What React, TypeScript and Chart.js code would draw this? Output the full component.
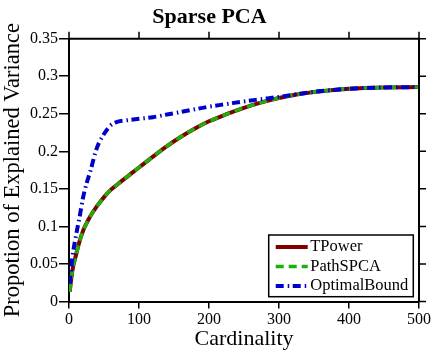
import React, { useEffect, useRef } from "react";
import { Chart, registerables } from "chart.js";

Chart.register(...registerables);

const cardinality = [1, 5, 10, 15, 20, 25, 30, 40, 50, 60, 70, 80, 100, 120, 140, 160, 180, 200, 225, 250, 275, 300, 325, 350, 400, 450, 500];
const tpower = [0.013, 0.042, 0.062, 0.08, 0.094, 0.104, 0.113, 0.127, 0.139, 0.149, 0.1565, 0.164, 0.1785, 0.193, 0.207, 0.2195, 0.2305, 0.24, 0.2495, 0.258, 0.2652, 0.271, 0.2756, 0.2791, 0.2833, 0.2851, 0.2856];
const pathspca = [0.013, 0.042, 0.062, 0.08, 0.094, 0.104, 0.113, 0.127, 0.139, 0.149, 0.1565, 0.164, 0.1785, 0.193, 0.207, 0.2195, 0.2305, 0.24, 0.2495, 0.258, 0.2652, 0.271, 0.2756, 0.2791, 0.2833, 0.2851, 0.2856];
const optimalBound = [0.024, 0.06, 0.088, 0.112, 0.138, 0.157, 0.172, 0.205, 0.223, 0.235, 0.2395, 0.241, 0.2433, 0.2455, 0.249, 0.2525, 0.256, 0.2595, 0.263, 0.2665, 0.2695, 0.2725, 0.276, 0.2792, 0.2833, 0.2851, 0.2856];

const xTickValues = [0, 100, 200, 300, 400, 500];
const xTickLabels = ["0", "100", "200", "300", "400", "500"];
const yTickValues = [0, 0.05, 0.1, 0.15, 0.2, 0.25, 0.3, 0.35];
const yTickLabels = ["0", "0.05", "0.1", "0.15", "0.2", "0.25", "0.3", "0.35"];

const seriesNames = ["TPower", "PathSPCA", "OptimalBound"];

const FONT = "'Liberation Serif', 'Times New Roman', serif";

const RED = "rgb(128,0,0)";
const GREEN = "rgb(30,175,10)";
const BLUE = "rgb(0,0,205)";

const toPoints = (ys: number[]) => cardinality.map((x, i) => ({ x, y: ys[i] }));

const framePlugin = {
  id: "frameAndLegend",
  afterDatasetsDraw(chart: any) {
    const { ctx, chartArea: a, scales } = chart;
    ctx.save();
    ctx.strokeStyle = "#000";
    ctx.lineWidth = 2;
    ctx.setLineDash([]);
    ctx.beginPath();
    ctx.moveTo(a.left, a.top);
    ctx.lineTo(a.right, a.top);
    ctx.lineTo(a.right, a.bottom);
    ctx.stroke();
    ctx.lineWidth = 1.5;
    ctx.beginPath();
    for (const v of xTickValues) {
      const px = scales.x.getPixelForValue(v);
      ctx.moveTo(px, a.top);
      ctx.lineTo(px, a.top - 7);
    }
    for (const v of yTickValues) {
      const py = scales.y.getPixelForValue(v);
      ctx.moveTo(a.right, py);
      ctx.lineTo(a.right + 7, py);
    }
    ctx.stroke();

    // legend
    ctx.font = `16.5px ${FONT}`;
    const ds = chart.data.datasets;
    let maxW = 0;
    for (const d of ds) maxW = Math.max(maxW, ctx.measureText(d.label).width);
    const lineLen = 32;
    const w = 7 + lineLen + 2.5 + maxW + 5;
    const h = 61.7;
    const right = a.right - 5.7;
    const bottom = a.bottom - 4.8;
    const left = right - w;
    const top = bottom - h;
    ctx.fillStyle = "#fff";
    ctx.fillRect(left, top, w, h);
    ctx.lineWidth = 1.5;
    ctx.strokeStyle = "#000";
    ctx.strokeRect(left, top, w, h);
    ds.forEach((d: any, i: number) => {
      const y = top + 12 + i * 19.5;
      ctx.save();
      ctx.strokeStyle = d.borderColor;
      ctx.lineWidth = d.borderWidth;
      ctx.setLineDash(d.borderDash || []);
      ctx.beginPath();
      ctx.moveTo(left + 7, y);
      ctx.lineTo(left + 7 + lineLen, y);
      ctx.stroke();
      ctx.restore();
      ctx.fillStyle = "#000";
      ctx.textBaseline = "middle";
      ctx.textAlign = "left";
      ctx.fillText(d.label, left + 7 + lineLen + 2.5, y);
    });
    ctx.restore();
  },
};

export default function App() {
  const ref = useRef<HTMLCanvasElement>(null);
  useEffect(() => {
    if (!ref.current) return;
    Chart.defaults.font.family = FONT;
    Chart.defaults.color = "#000";
    const chart = new Chart(ref.current, {
      type: "line",
      data: {
        datasets: [
          {
            label: seriesNames[0],
            data: toPoints(tpower),
            borderColor: RED,
            backgroundColor: RED,
            borderWidth: 4,
            pointRadius: 0,
            order: 3,
            cubicInterpolationMode: "monotone",
          },
          {
            label: seriesNames[1],
            data: toPoints(pathspca),
            borderColor: GREEN,
            backgroundColor: GREEN,
            borderWidth: 3.5,
            borderDash: [8, 5],
            pointRadius: 0,
            order: 2,
            cubicInterpolationMode: "monotone",
          },
          {
            label: seriesNames[2],
            data: toPoints(optimalBound),
            borderColor: BLUE,
            backgroundColor: BLUE,
            borderWidth: 4,
            borderDash: [8, 4, 1.5, 3.5],
            pointRadius: 0,
            order: 1,
            cubicInterpolationMode: "monotone",
          },
        ],
      } as any,
      options: {
        responsive: false,
        animation: false,
        layout: { padding: { left: 0, right: 17, top: 0, bottom: 0 } },
        plugins: {
          legend: { display: false },
          tooltip: { enabled: false },
          title: {
            display: true,
            text: "Sparse PCA",
            color: "#000",
            font: { family: FONT, size: 22, weight: "bold", lineHeight: 1.2 },
            padding: { top: 4, bottom: 8.3 },
          },
        },
        scales: {
          x: {
            type: "linear",
            min: 0,
            max: 500,
            afterFit: (s: any) => {
              s.height = 50.5;
            },
            afterBuildTicks: (s: any) => {
              s.ticks = xTickValues.map((v) => ({ value: v }));
            },
            ticks: {
              font: { family: FONT, size: 16 },
              color: "#000",
              padding: 2,
              maxRotation: 0,
              callback: (_v: any, i: number) => xTickLabels[i],
            },
            grid: { display: true, drawOnChartArea: false, drawTicks: true, tickLength: 7, color: "#000", lineWidth: 1.5 },
            border: { display: true, color: "#000", width: 2 },
            title: {
              display: true,
              text: "Cardinality",
              color: "#000",
              font: { family: FONT, size: 22, lineHeight: 1 },
              padding: { top: 0, bottom: 1.4 },
            },
          },
          y: {
            type: "linear",
            min: 0,
            max: 0.35,
            afterFit: (s: any) => {
              s.width = 69;
            },
            afterBuildTicks: (s: any) => {
              s.ticks = yTickValues.map((v) => ({ value: v }));
            },
            ticks: {
              font: { family: FONT, size: 16 },
              color: "#000",
              padding: 1,
              callback: (_v: any, i: number) => yTickLabels[i],
            },
            grid: { display: true, drawOnChartArea: false, drawTicks: true, tickLength: 10, color: "#000", lineWidth: 1.5 },
            border: { display: true, color: "#000", width: 2 },
            title: {
              display: true,
              text: "Propotion of Explained Variance",
              color: "#000",
              font: { family: FONT, size: 22.5, lineHeight: 1 },
              padding: { top: 2, bottom: 0 },
            },
          },
        },
      } as any,
      plugins: [framePlugin],
    });
    return () => chart.destroy();
  }, []);
  return (
    <div style={{ position: "fixed", left: 0, top: 0, width: 436, height: 352, background: "#fff" }}>
      <canvas ref={ref} width={436} height={352} style={{ display: "block" }} />
    </div>
  );
}
